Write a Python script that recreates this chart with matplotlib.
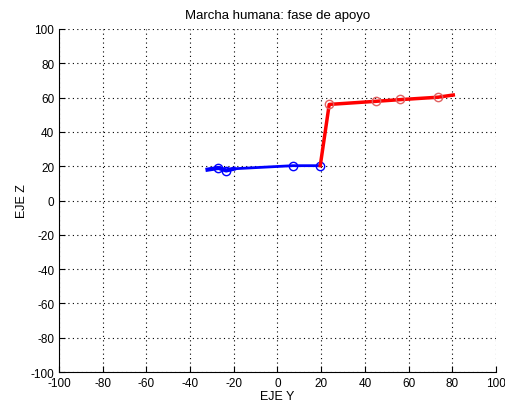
import matplotlib
matplotlib.use("Agg")
import matplotlib.pyplot as plt

# Blue segment (apoyo inicial)
blue_x = [-32.0, -27.0, -23.5, -20.0, 7.0, 19.6]
blue_y = [18.0, 19.0, 17.5, 18.5, 20.3, 20.3]
blue_mx = [-27.0, -23.5, 7.0, 19.6]
blue_my = [19.2, 17.0, 20.3, 20.3]

# Red segment
red_x = [19.6, 23.7, 44.9, 56.3, 73.5, 80.5]
red_y = [20.3, 56.0, 57.8, 58.8, 60.2, 61.5]
red_mx = [23.6, 44.9, 56.3, 73.5]
red_my = [56.5, 58.0, 59.0, 60.5]

ticks = list(range(-100, 101, 20))

plt.rcParams["font.family"] = ["Liberation Sans", "DejaVu Sans"]
plt.rcParams["axes.unicode_minus"] = False
fig = plt.figure(figsize=(5.06, 4.10), dpi=100)
ax = fig.add_axes([0.1166, 0.090, 0.8634, 0.837])

ax.plot(blue_x, blue_y, color="blue", lw=2)
ax.plot(blue_x[:4], blue_y[:4], color="blue", lw=3)
ax.plot(blue_mx, blue_my, "o", mfc="none", mec="blue", ms=6, mew=1)
ax.plot(red_x, red_y, color="red", lw=2.5)
ax.plot(red_mx, red_my, "o", mfc="none", mec="#e06060", ms=6, mew=1)

ax.set_xlim(-100, 100)
ax.set_ylim(-100, 100)
ax.set_xticks(ticks)
ax.set_yticks(ticks)
ax.grid(True, linestyle=(0, (1, 3)), color="black", lw=0.8)
ax.tick_params(direction="in", labelsize=8.5, length=4, width=0.8)
ax.spines["top"].set_visible(False)
ax.spines["right"].set_visible(False)
ax.set_xlabel("EJE Y", fontsize=9, labelpad=1)
ax.set_ylabel("EJE Z", fontsize=9, labelpad=2)
ax.set_title("Marcha humana: fase de apoyo", fontsize=9.5, pad=8)

fig.savefig("out.png", dpi=100)
